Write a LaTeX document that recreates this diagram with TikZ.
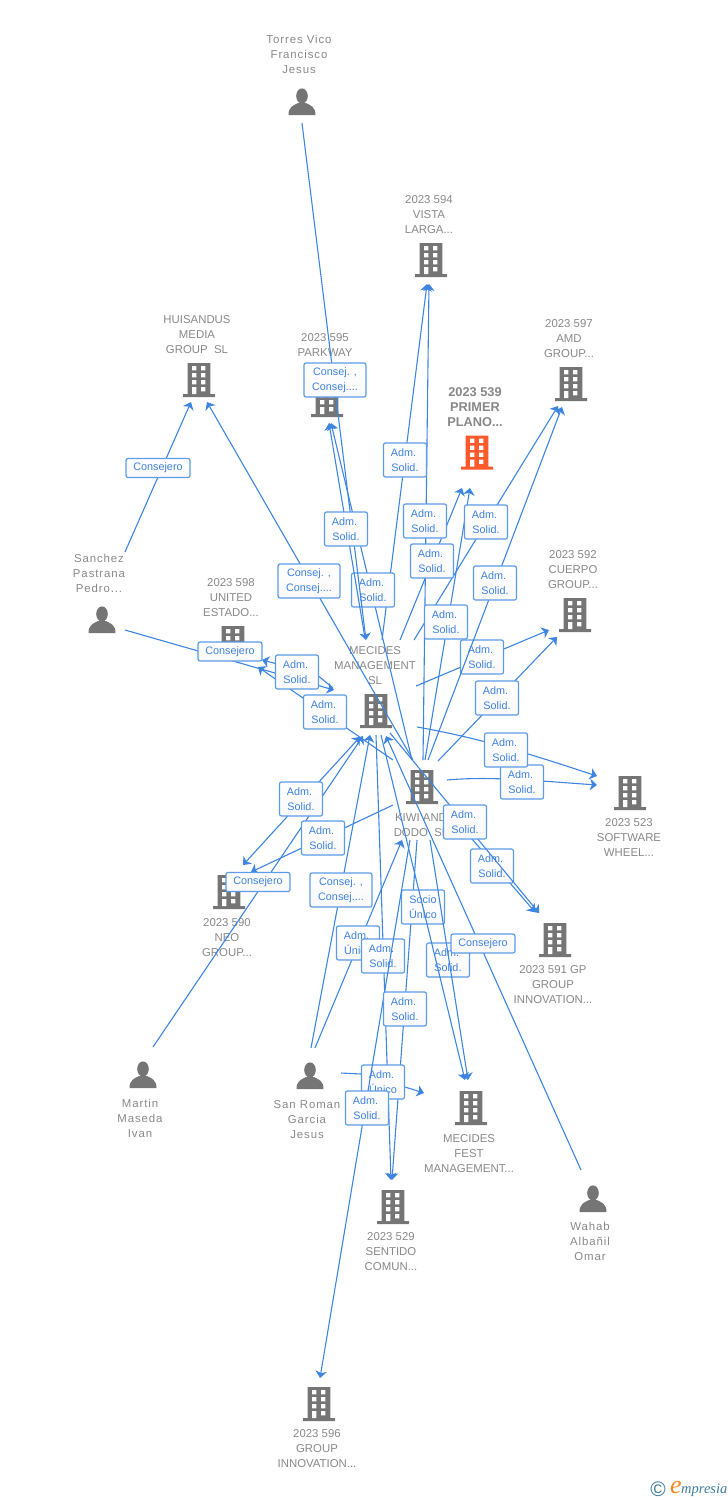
\documentclass[tikz,border=0pt]{standalone}
\usepackage{fontspec}
\setmainfont{Liberation Sans}
\newfontfamily\widefont[LetterSpace=8]{Liberation Sans}
\newfontfamily\logofont{Liberation Serif}
\usetikzlibrary{arrows.meta}
\definecolor{lk}{HTML}{3D85E0}
\definecolor{bd}{HTML}{5C9BE8}
\definecolor{tx}{HTML}{3F82E0}
\definecolor{gt}{HTML}{888888}
\definecolor{ic}{HTML}{757575}
\definecolor{og}{HTML}{FF5A2B}
\definecolor{lg}{HTML}{3F7C9C}
\definecolor{lo}{HTML}{F5871F}
\tikzset{
  etip/.tip={Stealth[length=7pt,width=11.5pt,inset=2pt]},
  link/.style={draw=lk,line width=1.1pt,-{etip}},
  dlink/.style={draw=lk,line width=1.1pt,{etip}-{etip}},
  boxbase/.style={draw=bd,line width=1.2pt,rounded corners=2pt,top color=white,bottom color=white!95!gray,text=tx,inner sep=0pt,align=center,font=\fontsize{10.8}{15}\selectfont},
  adm/.style={boxbase,minimum width=43pt,minimum height=34pt},
  cons/.style={boxbase,minimum width=62pt,minimum height=34pt},
  csj/.style={boxbase,minimum width=64pt,minimum height=19pt},
  nm/.style={text=gt,align=center,inner sep=0pt,yshift=-0.8pt,font=\fontsize{11.4}{15}\selectfont},
  who/.style={text=gt,align=center,inner sep=0pt,yshift=-0.8pt,font=\widefont\fontsize{11.4}{15}\selectfont},
  building/.pic={
    \fill[pic actions] (-11.3,-17) rectangle (11.3,14) (-16,14) rectangle (16,17);
    \foreach \r in {-14,-7,0}{
      \fill[white] (-7,\r) rectangle (-2.6,\r+4.4) (2,\r) rectangle (6.4,\r+4.4);}
    \fill[white] (-7,7) rectangle (-2.6,14) (2,7) rectangle (6.4,11.4);
  },
  person/.pic={
    \fill[pic actions] (0,-6) ellipse (5.8 and 7.6);
    \fill[pic actions] (-13.5,13) .. controls (-13.5,5) and (-9,3.5) .. (-4,1) -- (4,1) .. controls (9,3.5) and (13.5,5) .. (13.5,13) -- cycle;
  }
}
\newcommand\lnk[4][link]{\coordinate (#2a) at (#3); \coordinate (#2b) at (#4); \path[#1] (#2a) -- (#2b);}
\newcommand\AS{Adm.\hspace*{3pt}\\Solid.}
\newcommand\CC{Consej. ,\\Consej....}
\newcommand\AU{Adm.\hspace*{3pt}\\Único}
\begin{document}
\begin{tikzpicture}[x=1pt,y=-1pt]
\useasboundingbox (0,0) rectangle (728,1500);
% nodes: text and icon
\node[who] (torres) at (299,54) {Torres Vico\\Francisco\\Jesus};
\pic[fill=ic] at (302,102) {person};
\node[nm] (vista) at (429,214) {2023 594\\VISTA\\LARGA...};
\pic[fill=ic] at (431,260) {building};
\node[nm] (huis) at (197,334) {HUISANDUS\\MEDIA\\GROUP\ \ SL};
\pic[fill=ic] at (199,380) {building};
\node[nm] (park) at (325,352) {2023 595\\PARKWAY\\G...};
\pic[fill=ic] at (327,400) {building};
\node[nm] (amd) at (569,338) {2023 597\\AMD\\GROUP...};
\pic[fill=ic] at (571,384) {building};
\node[nm,font=\fontsize{12.8}{15}\selectfont\bfseries] (primer) at (475,406) {2023 539\\PRIMER\\PLANO...};
\pic[fill=og] at (477,452.5) {building};
\node[nm] (cuerpo) at (573,569) {2023 592\\CUERPO\\GROUP...};
\pic[fill=ic] at (575,615) {building};
\node[who] (sanchez) at (99,573) {Sanchez\\Pastrana\\Pedro...};
\pic[fill=ic] at (102,620) {person};
\node[nm] (united) at (231,597) {2023 598\\UNITED\\ESTADO...};
\pic[fill=ic] at (233,643) {building};
\node[nm] (mecides) at (375,665) {MECIDES\\MANAGEMENT\\SL};
\pic[fill=ic] at (376,711) {building};
\node[nm] (kiwi) at (421,824.5) {KIWI AND\\DODO\ \ SL};
\pic[fill=ic] at (422,787) {building};
\node[nm] (soft) at (629,837) {2023 523\\SOFTWARE\\WHEEL...};
\pic[fill=ic] at (630,793) {building};
\node[nm] (neo) at (227,937) {2023 590\\NEO\\GROUP...};
\pic[fill=ic] at (229,892) {building};
\node[nm] (gp) at (553,984) {2023 591 GP\\GROUP\\INNOVATION...};
\pic[fill=ic] at (555,940) {building};
\node[who] (martin) at (140,1118) {Martin\\Maseda\\Ivan};
\pic[fill=ic] at (143,1075) {person};
\node[who] (roman) at (307,1119) {San Roman\\Garcia\\Jesus};
\pic[fill=ic] at (310,1076) {person};
\node[nm] (fest) at (469,1153) {MECIDES\\FEST\\MANAGEMENT...};
\pic[fill=ic] at (471,1108) {building};
\node[who] (wahab) at (590,1241) {Wahab\\Albañil\\Omar};
\pic[fill=ic] at (593,1199) {person};
\node[nm] (sentido) at (391,1251) {2023 529\\SENTIDO\\COMUN...};
\pic[fill=ic] at (393,1207) {building};
\node[nm] (gi) at (317,1448) {2023 596\\GROUP\\INNOVATION...};
\pic[fill=ic] at (319,1404) {building};
% connectors hidden by every box
\lnk{e1}{125,552}{191,402}
\lnk{e2}{413,760}{207,402}
\lnk{e3}{125,630}{334,690}
\coordinate (e4a) at (333,688); \coordinate (e4m) at (316,674); \coordinate (e4b) at (262,660);
\path[link] (e4a) -- (e4m) -- (e4b);
\lnk{e5}{393,760}{258,667}
\lnk{e6}{412,760}{331,423}
\lnk{e7}{382,640}{427,284}
\lnk{e8}{423,760}{429,284}
\lnk{e9}{400,640}{462,488}
\lnk{e10}{425,760}{470,488}
\lnk{e11}{414,640}{558,406}
\lnk{e12}{416,686}{549,630}
\lnk{e13}{438,761}{557,637}
\coordinate (e14a) at (417,727); \coordinate (e14b) at (597,776);
\path[link] (e14a) .. controls (480,738) and (530,754) .. (e14b);
\coordinate (e15a) at (447,780); \coordinate (e15b) at (597,785);
\path[link] (e15a) .. controls (490,776) and (540,781) .. (e15b);
\lnk{e16}{447,810}{535,912}
\lnk[dlink]{e17}{360,737}{243,865}
\lnk{e18}{393,805}{251,872}
\lnk{e19}{153,1047}{363,736}
\lnk{e20}{311,1048}{370,735}
\lnk{e21}{315,1048}{402,840}
\lnk{e22}{376,735}{391,1180}
\lnk{e23}{581,1170}{386,736}
\lnk{e24}{417,840}{392,1180}
\coordinate (e25a) at (341,1073); \coordinate (e25m) at (361,1074); \coordinate (e25n) at (405,1087); \coordinate (e25b) at (424,1093);
\path[link] (e25a) -- (e25m) -- (e25n) -- (e25b);
% boxes that later connectors cross
\node[adm] (b1) at (373,590) {\AS};
\node[adm] (b2) at (482,657) {\AS};
\node[adm] (b3) at (492,866) {\AS};
\node[adm] (b4) at (423,907) {Socio\\Único};
\node[adm] (b5) at (448,960) {\AS};
\node[adm] (b6) at (358,943) {\AU};
\node[adm] (b7) at (383,956) {\AS};
\node[adm] (b8) at (383,1082) {\AU};
% connectors on top of those boxes
\lnk{e26}{365,638}{329,423}
\lnk{e27}{302,123}{366,640}
\lnk{e28}{428,760}{562,407}
\lnk{e29}{390,733}{539,913}
\lnk{e30}{381,735}{465,1080}
\lnk{e31}{430,840}{468,1080}
\lnk{e32}{410,840}{320,1378}
% boxes on top
\node[csj] (b9) at (158,468) {Consejero};
\node[cons] (b10) at (335,380) {\CC};
\node[adm] (b11) at (405,460) {\AS};
\node[adm] (b12) at (425,521) {\AS};
\node[adm] (b13) at (486,522) {\AS};
\node[adm] (b14) at (346,529) {\AS};
\node[adm] (b15) at (432,561) {\AS};
\node[adm] (b16) at (495,583) {\AS};
\node[cons] (b17) at (309,581) {\CC};
\node[adm] (b18) at (446,622) {\AS};
\node[adm] (b19) at (297,672) {\AS};
\node[csj] (b20) at (230,651.5) {Consejero};
\node[adm] (b21) at (325,712) {\AS};
\node[adm] (b22) at (497,698) {\AS};
\node[adm] (b23) at (522,782) {\AS};
\node[adm] (b24) at (506,750) {\AS};
\node[adm] (b25) at (301,799) {\AS};
\node[adm] (b26) at (323,838) {\AS};
\node[adm] (b27) at (465,822) {\AS};
\node[csj] (b28) at (258,882) {Consejero};
\node[cons] (b29) at (341,890) {\CC};
\node[csj] (b30) at (483,943.5) {Consejero};
\node[adm] (b31) at (405,1009) {\AS};
\node[adm] (b32) at (367,1108) {\AS};
% logo
\node[text=lg,inner sep=0pt,font=\fontsize{21}{21}\selectfont] (copy) at (658,1489) {©};
\node[text=lo,inner sep=0pt,font=\logofont\itshape\fontsize{26}{26}\selectfont] (loge) at (676,1487) {e};
\node[text=lg,inner sep=0pt,anchor=west,font=\logofont\itshape\fontsize{14.5}{14.5}\selectfont] (logt) at (681,1490) {mpresia};
\end{tikzpicture}
\end{document}
